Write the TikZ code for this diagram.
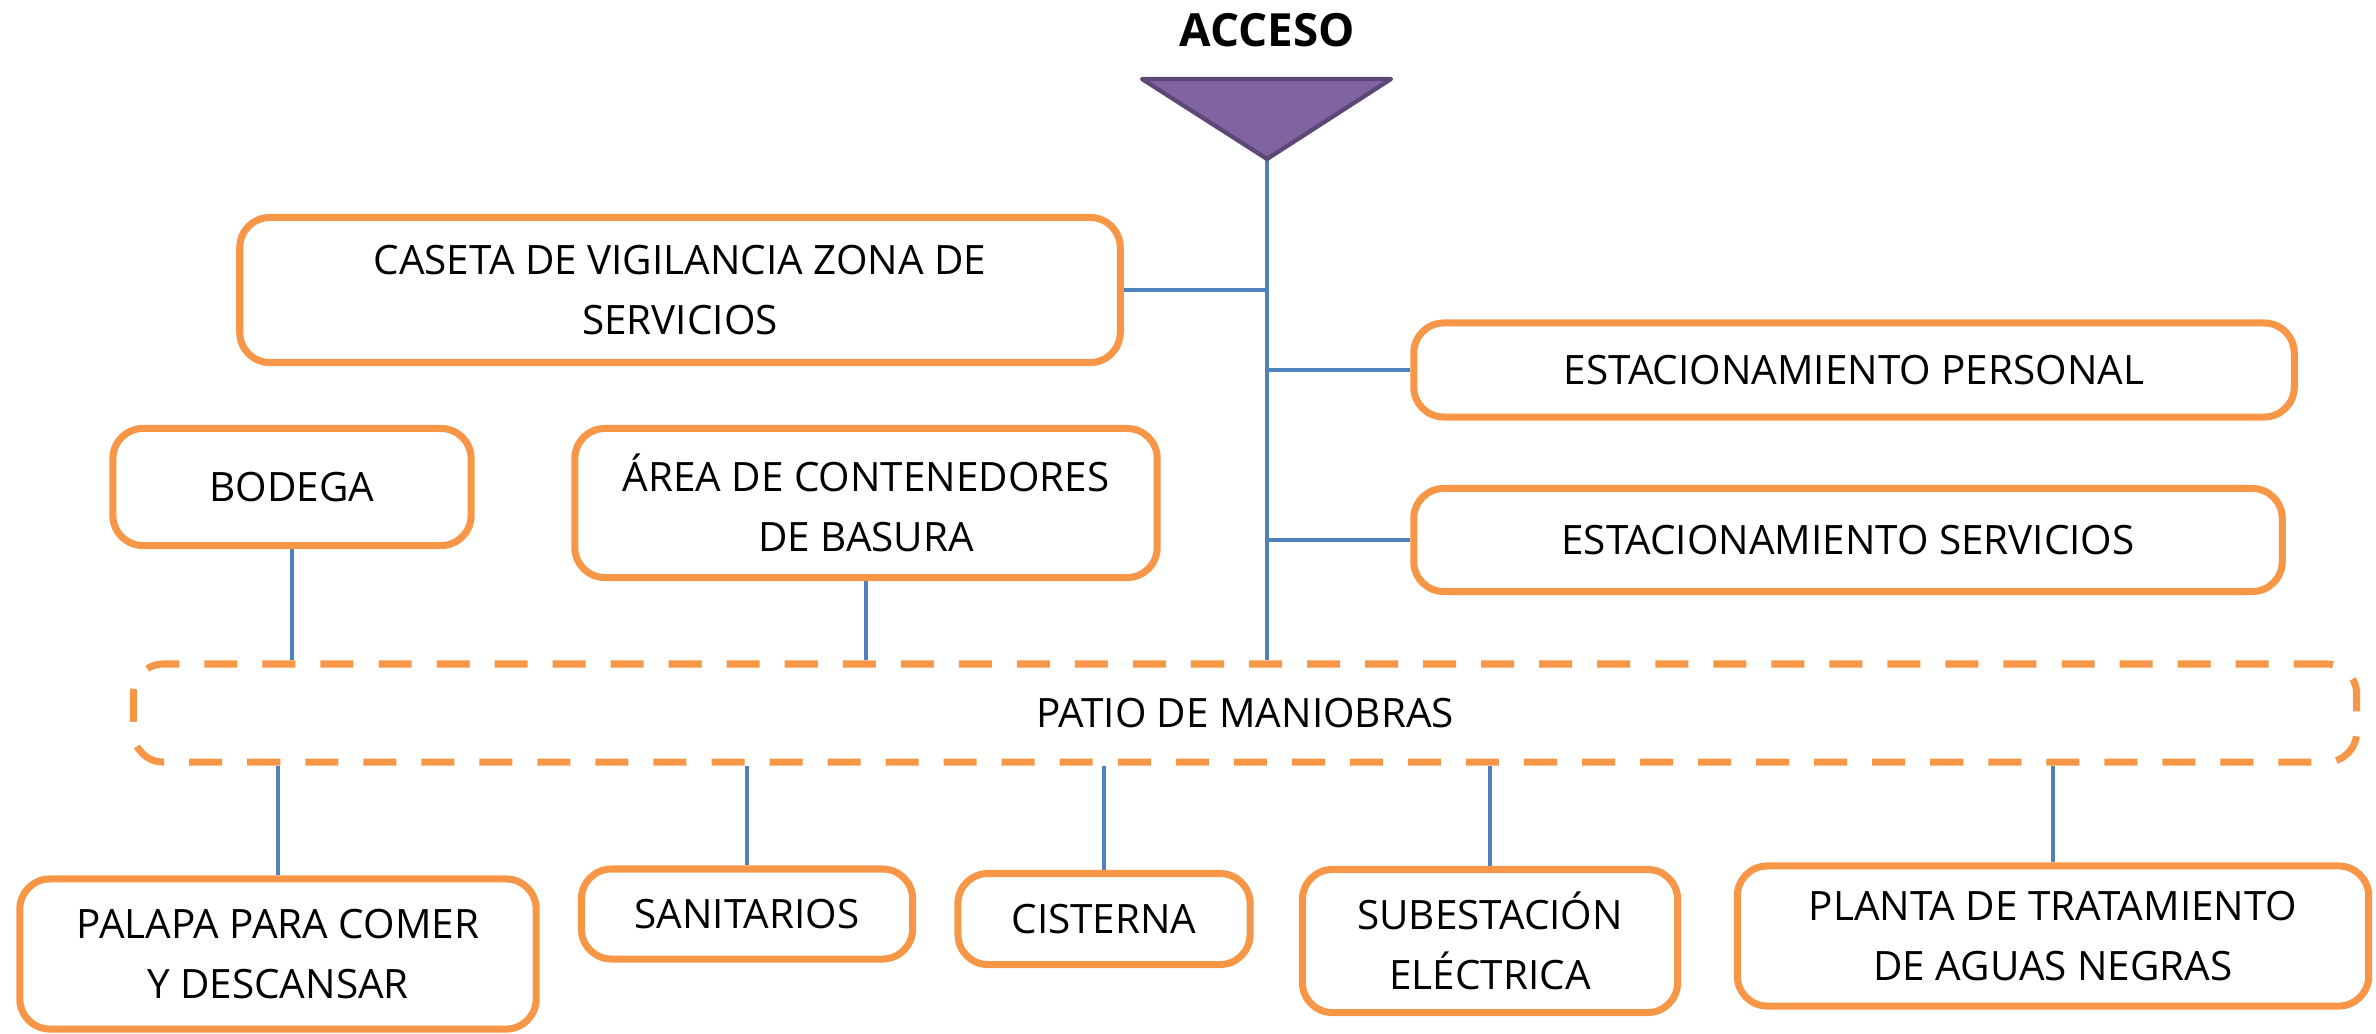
\documentclass[tikz,border=0pt]{standalone}
\usepackage{fontspec}
\setmainfont{Open Sans}
\usetikzlibrary{calc}
\usetikzlibrary{backgrounds}
\definecolor{naranja}{HTML}{F79646}
\definecolor{azul}{HTML}{4F81BD}
\definecolor{morado}{HTML}{8064A2}
\definecolor{moradoosc}{HTML}{5C4776}
\tikzstyle{area} = [%
					draw = naranja,
					line width = 2pt,
					rounded corners = 0.3cm,
					align = center,
					inner sep = 0pt,
					font = \fontsize{11.5}{17}\selectfont]
\tikzstyle{patio} = [%
					area,
					dashed,
					dash pattern = on 0.33cm off 0.25cm]
\tikzstyle{liga} = [%
					line width = 1.4pt,
					color = azul]

\begin{document}
\begin{tikzpicture}[x=0.01cm, y=-0.01cm]
	
	\useasboundingbox (0,0) rectangle (2376,1033);
	
	% Coordinates
	\coordinate (T1) at (1142,79);
	\coordinate (T2) at (1391,79);
	\coordinate (V)  at (1267,159);
	
	% Access
	\node[font=\bfseries\fontsize{13}{15}\selectfont] at (1267,30) (acceso) {ACCESO};
	\draw[fill=morado, draw=moradoosc, line width=1.2pt, line join=round] (T1) -- (T2) -- (V) -- cycle;
	
	% Nodes
	%% Upper side
	\node[area, minimum width=8.8cm, minimum height=1.45cm] at (680,290) (caseta) {CASETA DE VIGILANCIA ZONA DE\\SERVICIOS};
	\node[area, minimum width=8.8cm, minimum height=0.94cm] at (1854,370) (personal) {ESTACIONAMIENTO PERSONAL};
	\node[area, minimum width=8.68cm, minimum height=1.03cm] at (1848,540) (servicios) {ESTACIONAMIENTO SERVICIOS};
	\node[area, minimum width=3.58cm, minimum height=1.17cm] at (292,487) (bodega) {BODEGA};
	\node[area, minimum width=5.82cm, minimum height=1.49cm] at (866,503) (contenedores) {ÁREA DE CONTENEDORES\\DE BASURA};
	%% Patio
	\node[patio, minimum width=22.22cm, minimum height=0.98cm] at (1245,713) (maniobras) {PATIO DE MANIOBRAS};
	%% Lower side
	\node[area, minimum width=5.16cm, minimum height=1.5cm] at (278,954) (palapa) {PALAPA PARA COMER\\Y DESCANSAR};
	\node[area, minimum width=3.31cm, minimum height=0.9cm] at (747,914) (sanitarios) {SANITARIOS};
	\node[area, minimum width=2.92cm, minimum height=0.91cm] at (1104,919) (cisterna) {CISTERNA};
	\node[area, minimum width=3.75cm, minimum height=1.43cm] at (1490,941) (subestacion) {SUBESTACIÓN\\ELÉCTRICA};
	\node[area, minimum width=6.31cm, minimum height=1.4cm] at (2053,936) (planta) {PLANTA DE TRATAMIENTO\\DE AGUAS NEGRAS};
	
	\begin{scope}[on background layer]
		% Spine
		\draw[liga] (V) -- (V |- maniobras.north);
		\draw[liga] (caseta.east) -- (caseta.east -| V);
		\draw[liga] (personal.west -| V) -- (personal.west);
		\draw[liga] (servicios.west -| V) -- (servicios.west);
		% Upper links
		\draw[liga] (bodega.south) -- (bodega.south |- maniobras.north);
		\draw[liga] (contenedores.south) -- (contenedores.south |- maniobras.north);
		% Lower links
		\foreach \n in {palapa, sanitarios, cisterna, subestacion, planta}
		{
			\draw[liga] (\n.north |- maniobras.south) -- (\n.north);
		}
	\end{scope}
\end{tikzpicture}
\end{document}
